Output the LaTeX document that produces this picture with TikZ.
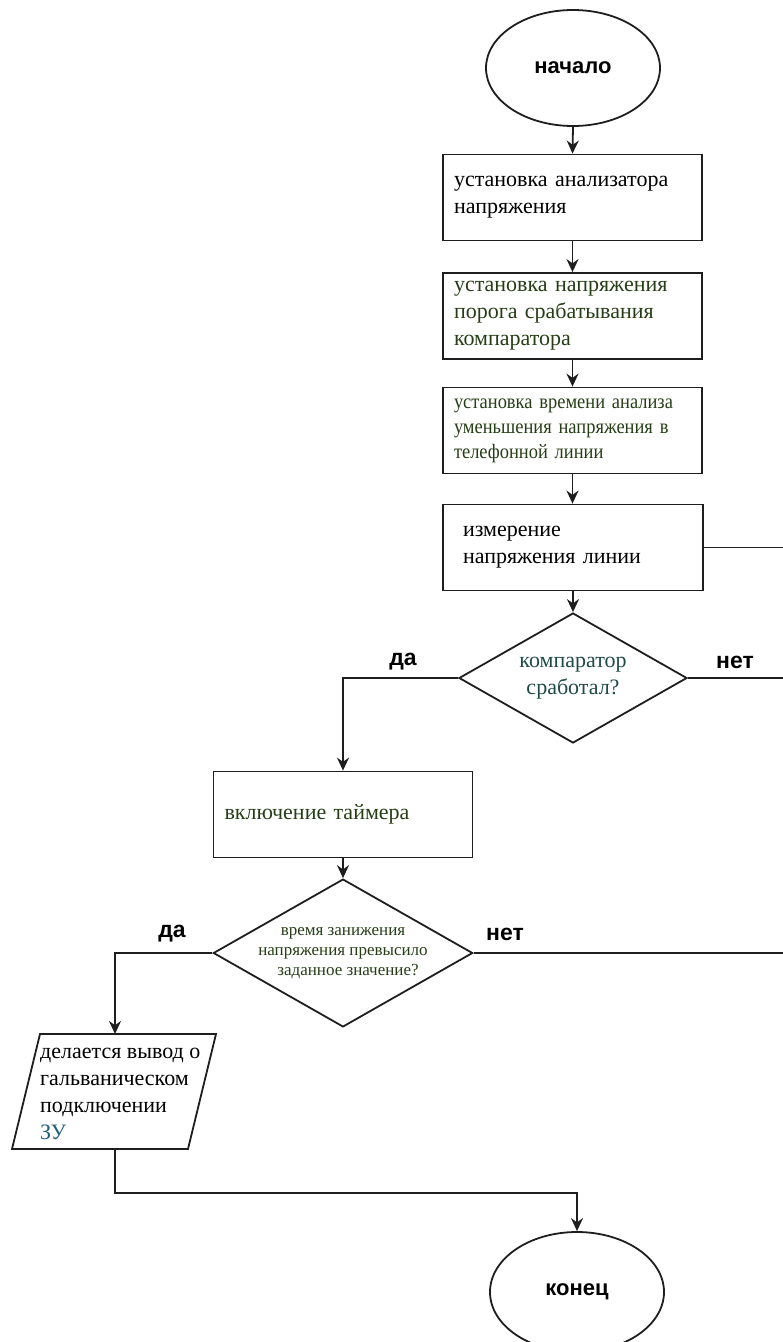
\documentclass[tikz,border=0pt]{standalone}
\usepackage{fontspec}
\setmainfont{Liberation Serif}
\newfontfamily\labelfont{Liberation Sans}
\newfontfamily\narrowserif{Liberation Serif}[FakeStretch=0.9]
\usetikzlibrary{shapes.geometric,arrows.meta,calc}

\definecolor{txtgreen}{RGB}{38,62,22}
\definecolor{txtteal}{RGB}{30,75,70}
\definecolor{txtblue}{RGB}{35,95,120}
\definecolor{linecol}{RGB}{30,30,30}

\tikzset{
  x=1pt, y=-1pt,
  every node/.style={font=\fontsize{22}{27}\selectfont},
  terminal/.style={draw=linecol, line width=1.8pt, ellipse, minimum width=174pt,
    minimum height=116pt, inner sep=0pt, font=\labelfont\bfseries\fontsize{22}{26}\selectfont},
  stepbox/.style={draw=linecol, line width=1.8pt, rectangle, minimum height=86pt,
    text width=237pt, inner xsep=11pt, inner ysep=0pt, align=left},
  decision/.style={draw=linecol, line width=1.8pt, diamond, aspect=1.754,
    minimum width=228pt, minimum height=130pt, inner sep=0pt, align=center},
  branch/.style={font=\labelfont\bfseries\fontsize{23}{26}\selectfont, inner sep=0pt},
  link/.style={draw=linecol, line width=1.8pt},
  arr/.style={link, -{Stealth[length=13pt,width=12pt]}}
}

\begin{document}
\begin{tikzpicture}
\useasboundingbox (0,0) rectangle (783,1342);
\clip (0,0) rectangle (783,1342);

% start / end terminals
\node[terminal] (start) at (573,68) {начало};
\node[terminal, minimum height=120pt] (stop) at (577,1292) {конец};

% process steps
\node[stepbox] (b1) at (572.5,197.5) {установка анализатора\\напряжения};
\node[stepbox, text=txtgreen] (b2) at (572.5,316) {установка напряжения\\порога срабатывания\\компаратора};
\node[stepbox, text=txtgreen, font=\narrowserif\fontsize{20.5}{25}\selectfont] (b3) at (572.5,430.5)
  {установка времени анализа\\уменьшения напряжения в\\телефонной линии};
\node[stepbox, text width=220pt, inner xsep=20pt] (b4) at (573,547.5)
  {измерение\\напряжения линии};

% first decision
\node[decision, text=txtteal] (d1) at (573,678) {компаратор\\сработал?};
\node[stepbox, text=txtgreen] (b5) at (343,814.5) {включение таймера};

% second decision
\node[decision, text=txtgreen, font=\fontsize{17}{20}\selectfont] (d2) at (343,953)
  {время занижения\\напряжения превысило\\\hspace*{10pt}заданное значение?};

% conclusion (parallelogram)
\coordinate (pTL) at (40,1034);
\coordinate (pTR) at (216,1034);
\coordinate (pBR) at (188,1149);
\coordinate (pBL) at (12,1149);
\draw[link, line join=miter] (pTL) -- (pTR) -- (pBR) -- (pBL) -- cycle;
\coordinate (pTop) at (115,1034);
\coordinate (pBot) at (115,1149);
\node[anchor=west, align=left, inner sep=0pt] (concl) at (40,1094)
  {делается вывод о\\гальваническом\\подключении\\\textcolor{txtblue}{ЗУ}};

% branch labels
\node[branch] (yes1) at (403,662) {да};
\node[branch] (no1) at (735,662) {нет};
\node[branch] (yes2) at (172,934) {да};
\node[branch] (no2) at (505,934) {нет};

% loose ends running off to the right
\coordinate (loopA) at (783,546);
\coordinate (loopB) at (783,678);
\coordinate (loopC) at (783,953);
\coordinate (join) at (115,1193);

% connectors
\draw[arr] (start.south) -- (b1.north);
\draw[arr] (b1.south) -- (b2.north);
\draw[arr] (b2.south) -- (b3.north);
\draw[arr] (b3.south) -- (b4.north -| b3.south);
\draw[arr] (b4.south -| d1.north) -- (d1.north);
\draw[link] (b4.east) -- (b4.east -| loopA);
\draw[arr] (d1.west) -| (b5.north);
\draw[link] (d1.east) -- (loopB);
\draw[arr] (b5.south) -- (d2.north);
\draw[arr] (d2.west) -| (pTop);
\draw[link] (d2.east) -- (loopC);
\draw[arr] (pBot) -- (join) -| (stop.north);
\end{tikzpicture}
\end{document}
